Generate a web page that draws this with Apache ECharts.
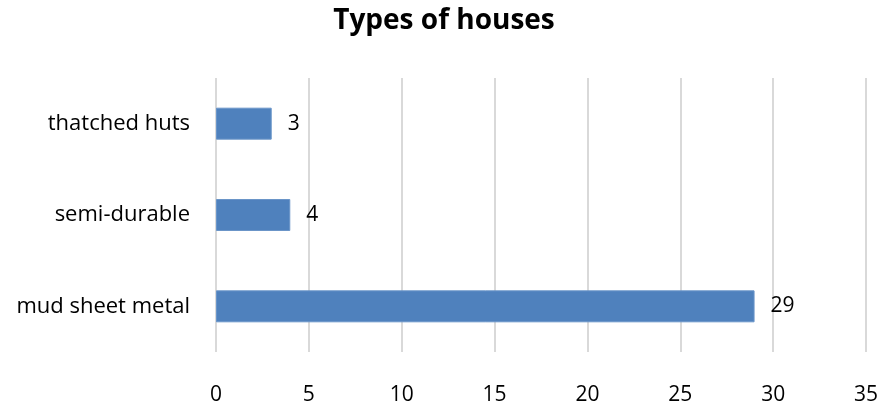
<!DOCTYPE html>
<html>
<head>
<meta charset="utf-8">
<script src="https://cdn.jsdelivr.net/npm/echarts@6/dist/echarts.min.js"></script>
<style>
  html, body { margin: 0; padding: 0; background: #fff; }
  #chart { width: 888px; height: 408px; }
</style>
</head>
<body>
<div id="chart"></div>
<script>
// 数据
const categories = ['mud sheet metal', 'semi-durable', 'thatched huts'];
const counts = [29, 4, 3];
const xTicks = { min: 0, max: 35, interval: 5 };

const font = '"Open Sans", "Noto Sans", sans-serif';

const myChart = echarts.init(document.getElementById('chart'), null, { renderer: 'canvas' });

myChart.setOption({
  animation: false,
  title: {
    text: 'Types of houses',
    left: 'center',
    top: 2,
    textStyle: { fontFamily: font, fontWeight: 'bold', fontSize: 28, color: '#000' }
  },
  grid: { left: 216, right: 22, top: 78, bottom: 56, containLabel: false },
  xAxis: {
    type: 'value',
    min: xTicks.min,
    max: xTicks.max,
    interval: xTicks.interval,
    axisLine: { show: false },
    axisTick: { show: false },
    splitLine: { lineStyle: { color: '#d9d9d9', width: 2 } },
    axisLabel: { fontFamily: font, fontSize: 21, color: '#000', margin: 33 }
  },
  yAxis: {
    type: 'category',
    data: categories,
    axisLine: { show: false },
    axisTick: { show: false },
    axisLabel: { fontFamily: font, fontSize: 22, color: '#000', margin: 26 }
  },
  series: [{
    type: 'bar',
    data: counts,
    barWidth: '35%',
    itemStyle: { color: '#4f81bd', borderColor: '#6a95c9', borderWidth: 1 },
    label: {
      show: true,
      position: 'right',
      distance: 16,
      fontFamily: font,
      fontSize: 21,
      color: '#000'
    }
  }]
});

// 窗口变化时自适应
window.addEventListener('resize', () => myChart.resize());
</script>
</body>
</html>
